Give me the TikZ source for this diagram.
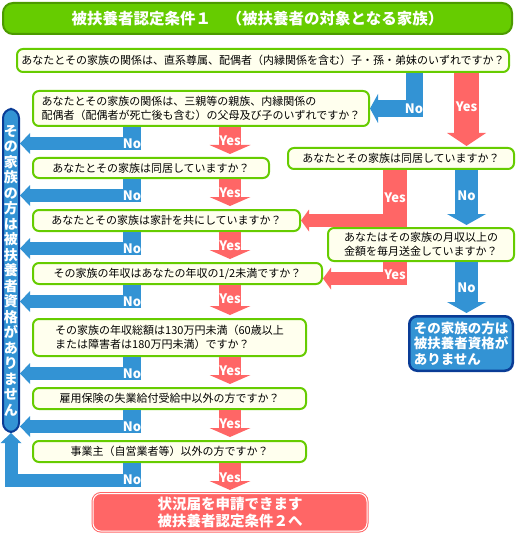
\documentclass[tikz,border=0pt]{standalone}
\usepackage{fontspec}
\setmainfont{Noto Sans CJK JP}
\usetikzlibrary{arrows.meta,positioning,calc}

\definecolor{titlegreen}{HTML}{66CC00}
\definecolor{titleedge}{HTML}{4C9A00}
\definecolor{boxedge}{HTML}{66CC00}
\definecolor{boxfill}{HTML}{FFFFEE}
\definecolor{noblue}{HTML}{3393D4}
\definecolor{darkblue}{HTML}{0A3C96}
\definecolor{yespink}{HTML}{FF6666}

\begin{document}
\begin{tikzpicture}[
  x=1pt, y=-1pt,
  node distance=30pt,
  titlebox/.style={draw=titleedge, fill=titlegreen, line width=2pt, rounded corners=10pt,
                   text=white, font=\fontsize{15.5}{17}\selectfont\bfseries},
  qbox/.style={draw=boxedge, fill=boxfill, line width=2pt, rounded corners=6pt,
               font=\fontsize{11}{14}\selectfont, inner sep=3pt, minimum height=21pt},
  colbox/.style={draw=darkblue, fill=noblue, line width=2pt, rounded corners=9pt,
                 text=white, align=center, inner sep=0pt,
                 font=\fontsize{14}{15.5}\selectfont\bfseries},
  resbox/.style={draw=darkblue, fill=noblue, line width=2.5pt, rounded corners=8pt,
                 text=white, align=left, font=\fontsize{13.5}{15.5}\selectfont\bfseries},
  finbox/.style={draw=yespink, double=white, double distance=1pt, line width=1pt,
                 fill=yespink, rounded corners=8pt, text=white, align=left,
                 font=\fontsize{14.5}{17}\selectfont\bfseries},
  lbl/.style={text=white, inner sep=0pt, font=\fontsize{13}{13}\selectfont\bfseries},
  nobar/.style={noblue, line width=18pt},
  noband/.style={noblue, line width=13pt, -{Triangle[width=21pt,length=10pt,line width=0pt 0]}},
  noL/.style={noblue, line width=17pt,
              -{Triangle[width=29pt,length=8pt,line width=0pt 0]}},
  nodown/.style={noblue, line width=23pt, shorten >=2pt,
                 -{Triangle[width=39pt,length=11pt,line width=0pt 0]}},
  yesdown/.style={yespink, line width=22pt, shorten >=3pt,
                  -{Triangle[width=41pt,length=9pt,line width=0pt 0]}},
  yesbig/.style={yespink, line width=25pt, shorten >=1pt,
                 -{Triangle[width=39pt,length=13pt,line width=0pt 0]}},
  yesbar/.style={yespink, line width=24pt},
  yesband/.style={yespink, line width=13pt, -{Triangle[width=22pt,length=8pt,line width=0pt 0]}}
]
\useasboundingbox (0,0) rectangle (518,540);

\node[titlebox, anchor=north west, minimum width=509pt, minimum height=31pt] (title) at (2,2)
  {被扶養者認定条件１　（被扶養者の対象となる家族）};

\node[qbox, anchor=north west, minimum width=492pt, minimum height=23pt] (q1) at (16,48)
  {あなたとその家族の関係は、直系尊属、配偶者（内縁関係を含む）子・孫・弟妹のいずれですか？};

% left column
\node[qbox, anchor=north west, minimum width=336pt, minimum height=35pt, align=left] (q2) at (32,90)
  {あなたとその家族の関係は、三親等の親族、内縁関係の\\配偶者（配偶者が死亡後も含む）の父母及び子のいずれですか？};
\node[qbox, below=of q2.south west, anchor=north west, minimum width=236pt, minimum height=20pt] (q3)
  {あなたとその家族は同居していますか？};
\node[qbox, below=of q3.south west, anchor=north west, minimum width=267pt] (q4)
  {あなたとその家族は家計を共にしていますか？};
\node[qbox, below=of q4.south west, anchor=north west, minimum width=289pt] (q5)
  {その家族の年収はあなたの年収の1/2未満ですか？};
\node[qbox, below=33pt of q5.south west, anchor=north west, minimum width=273pt, minimum height=37pt, align=left] (q6)
  {その家族の年収総額は130万円未満（60歳以上\\または障害者は180万円未満）ですか？};
\node[qbox, below=of q6.south west, anchor=north west, minimum width=273pt] (q7)
  {雇用保険の失業給付受給中以外の方ですか？};
\node[qbox, below=of q7.south west, anchor=north west, minimum width=273pt] (q8)
  {事業主（自営業者等）以外の方ですか？};

\node[colbox, anchor=north west, minimum width=16pt, minimum height=323pt] (col) at (2,108)
  {そ\\の\\家\\族\\の\\方\\は\\被\\扶\\養\\者\\資\\格\\が\\あ\\り\\ま\\せ\\ん};

% right column
\node[qbox, anchor=north west, minimum width=226pt] (q3r) at (287,147)
  {あなたとその家族は同居していますか？};
\node[qbox, anchor=north west, minimum width=186pt, minimum height=33pt, align=left] (q9r) at (327,227)
  {あなたはその家族の月収以上の\\金額を毎月送金していますか？};
\node[resbox, anchor=north west, minimum width=103.5pt, minimum height=54.5pt] (resr) at (408,315)
  {その家族の方は\\被扶養者資格が\\ありません};

\coordinate (nx) at (132,0);
\coordinate (yx) at (230,0);
\coordinate (bx) at (414,0);
\coordinate (rx) at (466.5,0);
\coordinate (ry) at (395,0);
\coordinate (ryb) at (407,0);

\coordinate (fintop) at (q8.south -| yx);
\node[finbox, below=of fintop, minimum width=274pt, minimum height=34pt] (fin)
  {状況届を申請できます\\被扶養者認定条件２へ};

% first question
\draw[noL] (q1.south -| bx) |- (q2.east);
\node[lbl] at (q2.east -| bx) {No};
\draw[yesbig] (q1.south -| rx) -- (q3r.north -| rx);
\node[lbl] at ($(q1.south -| rx)+(0,34)$) {Yes};

% right side
\draw[yesbar] (q3r.south -| ry) -- ($(q4.east -| ry)+(0,6.5)$);
\draw[yesband] (q4.east -| ryb) -- (q4.east);
\node[lbl] at ($(q3r.south -| ry)+(0,28)$) {Yes};
\draw[nodown] (q3r.south -| rx) -- (q9r.north -| rx);
\node[lbl] at ($(q3r.south -| rx)+(0,26)$) {No};

\draw[yesbar] (q9r.south -| ry) -- ++(0,23);
\draw[yesband] ($(q9r.south -| ryb)+(0,16.5)$) -- ($(q9r.south -| q5.east)+(0,16.5)$);
\node[lbl] at ($(q9r.south -| ry)+(0,13)$) {Yes};
\draw[nodown] (q9r.south -| rx) -- (resr.north -| rx);
\node[lbl] at ($(q9r.south -| rx)+(0,26)$) {No};

% left side
\foreach \q/\n in {q2/q3, q3/q4, q4/q5, q5/q6, q6/q7, q7/q8}{
  \draw[nobar] (\q.south -| nx) -- ++(0,23);
  \draw[noband] ($(\q.south -| nx)+(9,16.5)$) -- ($(\q.south -| col.east)+(0,16.5)$);
  \node[lbl] at ($(\q.south -| nx)+(0,16.5)$) {No};
  \draw[yesdown] (\q.south -| yx) -- (\n.north -| yx);
  \node[lbl] at ($(\q.south -| yx)+(0,14)$) {Yes};
}
\draw[nobar] (q8.south -| nx) -- ++(0,24);
\draw[noband] ($(q8.south -| nx)+(9,17)$) -| (col.south);
\node[lbl] at ($(q8.south -| nx)+(0,17)$) {No};
\draw[yesdown] (q8.south -| yx) -- (fin.north -| yx);
\node[lbl] at ($(q8.south -| yx)+(0,15)$) {Yes};
\end{tikzpicture}
\end{document}
